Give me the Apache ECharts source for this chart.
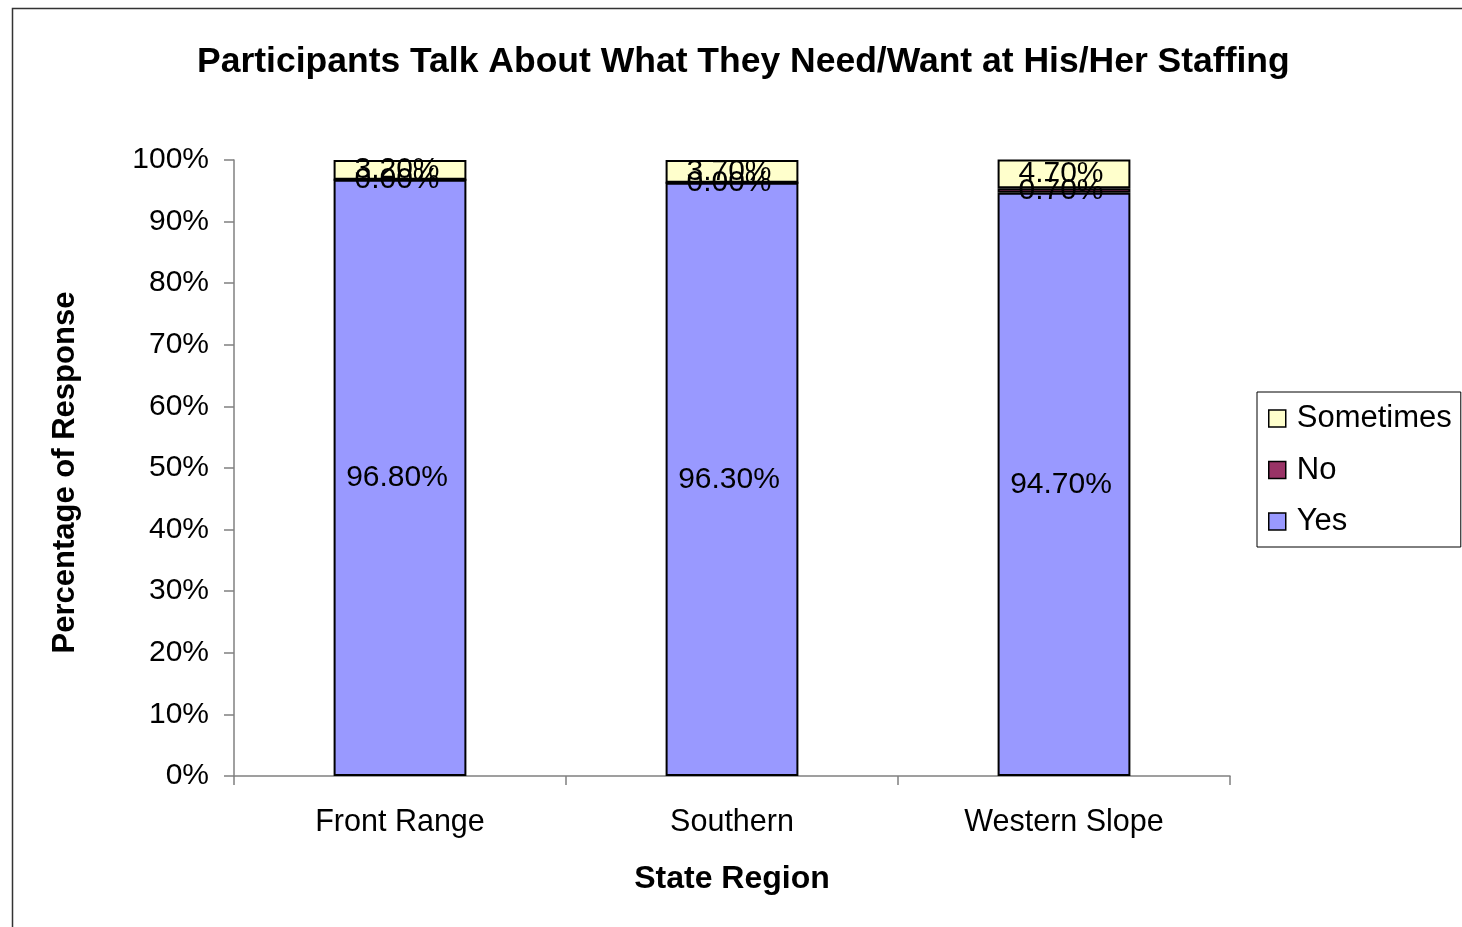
<!DOCTYPE html>
<html>
<head>
<meta charset="utf-8">
<script src="https://cdn.jsdelivr.net/npm/echarts@6/dist/echarts.min.js"></script>
<style>html,body{margin:0;padding:0;background:#fff}#c{width:1462px;height:927px}</style>
</head>
<body>
<div id="c"></div>
<script>
const categories = ['Front Range', 'Southern', 'Western Slope'];
const yesValues = [96.8, 96.3, 94.7];
const noValues = [0.0, 0.0, 0.7];
const sometimesValues = [3.2, 3.7, 4.7];
const yTicks = [0, 10, 20, 30, 40, 50, 60, 70, 80, 90, 100];

const FONT = '"Liberation Sans", Arial, sans-serif';
const chart = echarts.init(document.getElementById('c'), null, {renderer: 'canvas'});
const lbl = {
  show: true, position: 'inside', color: '#000', fontFamily: FONT, fontSize: 30,
  offset: [-3, 0],
  formatter: p => p.value.toFixed(2) + '%'
};
function mk(name, data, color) {
  return {
    name, type: 'bar', stack: 'all', data, barWidth: '40%',
    itemStyle: {color, borderColor: '#000', borderWidth: 2},
    label: lbl, emphasis: {disabled: true}
  };
}
chart.setOption({
  animation: false,
  backgroundColor: '#fff',
  title: {
    text: 'Participants Talk About What They Need/Want at His/Her Staffing',
    left: 197, top: 44, padding: 0, itemGap: 0,
    textStyle: {fontFamily: FONT, fontSize: 35.5, fontWeight: 'bold', color: '#000'}
  },
  graphic: [{
    type: 'rect', left: 10, top: 6, silent: true, z: -10,
    shape: {width: 1500, height: 1000},
    style: {fill: 'none', stroke: '#333', lineWidth: 1.5}
  }],
  legend: {
    data: ['Sometimes', 'No', 'Yes'],
    orient: 'vertical', left: 1257, top: 392,
    padding: [11, 9, 10, 11], itemGap: 20.5,
    itemWidth: 17, itemHeight: 17, icon: 'rect',
    borderColor: '#000', borderWidth: 1,
    itemStyle: {borderColor: '#000', borderWidth: 1.5},
    textStyle: {fontFamily: FONT, fontSize: 31, color: '#000', lineHeight: 30, padding: [0, 0, 0, 6]}
  },
  grid: {left: 234, right: 232, top: 160, bottom: 151, containLabel: false},
  xAxis: {
    type: 'category', data: categories,
    name: 'State Region', nameLocation: 'middle', nameGap: 87,
    nameTextStyle: {fontFamily: FONT, fontSize: 32, fontWeight: 'bold', color: '#000'},
    axisLine: {lineStyle: {color: '#808080', width: 1.5}},
    axisTick: {show: true, length: 9, lineStyle: {color: '#808080', width: 1.5}},
    axisLabel: {fontFamily: FONT, fontSize: 30.5, color: '#000', margin: 31}
  },
  yAxis: {
    type: 'value', min: 0, max: 100, interval: 10,
    name: 'Percentage of Response', nameLocation: 'middle', nameGap: 153, nameRotate: 90,
    nameTextStyle: {fontFamily: FONT, fontSize: 31, fontWeight: 'bold', color: '#000', padding: [0, 9, 0, 0]},
    axisLine: {show: true, lineStyle: {color: '#808080', width: 1.5}},
    axisTick: {show: true, length: 10, lineStyle: {color: '#808080', width: 1.5}},
    splitLine: {show: false},
    axisLabel: {fontFamily: FONT, fontSize: 30, color: '#000', margin: 25, padding: [4, 0, 0, 0],
      formatter: v => (yTicks.includes(v) ? v + '%' : '')}
  },
  series: [
    mk('Yes', yesValues, '#9999FF'),
    mk('No', noValues, '#993366'),
    mk('Sometimes', sometimesValues, '#FFFFCC')
  ]
});
</script>
</body>
</html>
